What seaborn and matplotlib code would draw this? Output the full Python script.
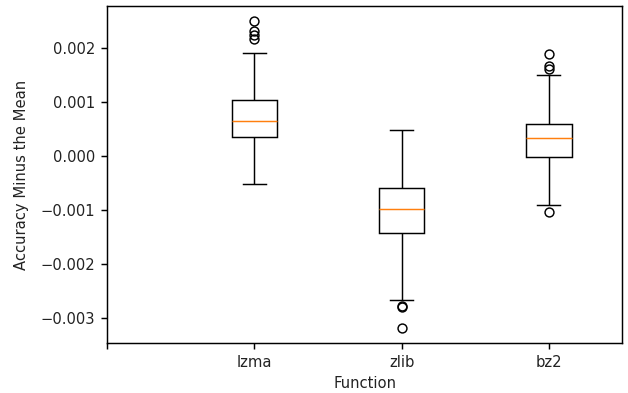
import matplotlib
matplotlib.use("Agg")
import matplotlib.pyplot as plt
import seaborn as sns
import pandas as pd

# Per-run accuracy minus the overall mean, for each compression function
functions = ["lzma", "zlib", "bz2"]
tick_labels = ["", "lzma", "zlib", "bz2"]

lzma_acc = [-0.518e-3, -0.200e-3, 0.050e-3, 0.200e-3, 0.300e-3, 0.357e-3, 0.420e-3,
            0.500e-3, 0.560e-3, 0.610e-3, 0.652e-3, 0.720e-3, 0.810e-3, 0.900e-3,
            0.980e-3, 1.048e-3, 1.909e-3, 2.176e-3, 2.250e-3, 2.329e-3, 2.501e-3]
zlib_acc = [-3.185e-3, -2.800e-3, -2.780e-3, -2.662e-3, -2.000e-3, -1.429e-3, -1.300e-3,
            -1.200e-3, -1.100e-3, -1.030e-3, -0.974e-3, -0.900e-3, -0.820e-3, -0.740e-3,
            -0.660e-3, -0.598e-3, -0.450e-3, -0.250e-3, 0.000e-3, 0.250e-3, 0.481e-3]
bz2_acc = [-1.030e-3, -0.906e-3, -0.600e-3, -0.350e-3, -0.150e-3, -0.006e-3, 0.060e-3,
           0.140e-3, 0.210e-3, 0.280e-3, 0.338e-3, 0.400e-3, 0.460e-3, 0.520e-3,
           0.570e-3, 0.604e-3, 0.900e-3, 1.497e-3, 1.621e-3, 1.664e-3, 1.898e-3]

df = pd.concat([
    pd.DataFrame({"Function": name, "Accuracy": vals})
    for name, vals in zip(functions, [lzma_acc, zlib_acc, bz2_acc])
], ignore_index=True)

plt.rcParams["font.size"] = 10.6
plt.rcParams["text.color"] = "#222222"
plt.rcParams["xtick.labelcolor"] = "#222222"
plt.rcParams["ytick.labelcolor"] = "#222222"
plt.rcParams["axes.labelcolor"] = "#222222"
fig = plt.figure(figsize=(6.28, 3.93), dpi=100)
ax = fig.add_axes([0.1709, 0.1265, 0.8201, 0.8582])

lw = 1.05
sns.boxplot(
    data=df, x="Function", y="Accuracy", order=tick_labels, ax=ax,
    width=0.31, color="white", linecolor="black", linewidth=lw,
    whis=1.5, capwidths=0.155,
    medianprops={"color": "#ff7f0e", "linewidth": lw},
    flierprops={"marker": "o", "markersize": 6.4, "markerfacecolor": "none",
                "markeredgecolor": "black", "markeredgewidth": lw},
)

ax.set_xticks(range(len(tick_labels)))
ax.set_xticklabels(tick_labels)
ax.set_xlim(0, 3.5)
ax.set_xlabel("Function", labelpad=4.5)
ax.set_ylabel("Accuracy Minus the Mean", labelpad=8.5)
for s in ax.spines.values():
    s.set_linewidth(lw)
ax.tick_params(width=lw, length=4, pad=4.5)

fig.savefig("out.png", dpi=100)
